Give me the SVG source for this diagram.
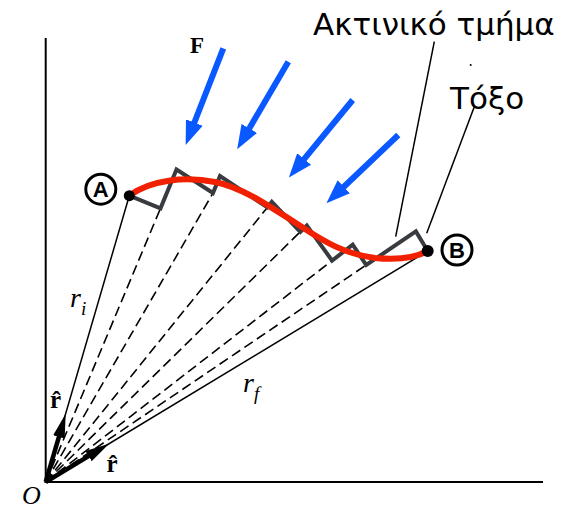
<svg xmlns="http://www.w3.org/2000/svg" width="568" height="511" viewBox="0 0 568 511">
<defs>
<style>
.axis{stroke:#000;stroke-width:2;fill:none}
.rad{stroke:#000;stroke-width:1.5;fill:none}
.dash{stroke:#000;stroke-width:1.6;fill:none;stroke-dasharray:10 5}
.lead{stroke:#000;stroke-width:1.5;fill:none}
.force{stroke:#0a58ff;stroke-width:6;fill:none;marker-end:url(#bh)}
.unit{stroke:#000;stroke-width:4.5;fill:none;marker-end:url(#kh)}
.stair{stroke:#383c40;stroke-width:4;fill:none;stroke-linejoin:miter}
.path{stroke:#f02000;stroke-width:6;fill:none;stroke-linecap:round}
.greek{font-family:"DejaVu Sans","Noto Sans",sans-serif;font-size:31px;fill:#000}
.it{font-family:"Liberation Serif","Times New Roman",serif;font-style:italic;fill:#000}
.bd{font-family:"Liberation Serif","Times New Roman",serif;font-weight:bold;fill:#000}
.circ{fill:#fff;stroke:#000;stroke-width:3}
.clab{font-family:"Liberation Sans",Arial,sans-serif;font-weight:bold;font-size:22px;text-anchor:middle;fill:#000}
</style>
<marker id="bh" viewBox="0 -10 26 20" markerWidth="26" markerHeight="20" refX="1" refY="0" orient="auto" markerUnits="userSpaceOnUse">
<path d="M0,-9 L24,0 L0,9 z" fill="#0a58ff"/>
</marker>
<marker id="kh" viewBox="0 -7 26 14" markerWidth="26" markerHeight="14" refX="1" refY="0" orient="auto" markerUnits="userSpaceOnUse">
<path d="M0,-6 L24,0 L0,6 z" fill="#000"/>
</marker>
</defs>

<g id="axes">
<line class="axis" x1="45.7" y1="38" x2="45.7" y2="483"/>
<line class="axis" x1="44.7" y1="482" x2="543" y2="482"/>
<text class="it" x="22" y="504" font-size="26">O</text>
</g>

<g id="connectors">
<line class="rad" x1="45.7" y1="482" x2="129.3" y2="195.7"/>
<line class="rad" x1="45.7" y1="482" x2="427.7" y2="251"/>
<line class="dash" x1="45.7" y1="482" x2="160.5" y2="208.3"/>
<line class="dash" x1="45.7" y1="482" x2="213" y2="193"/>
<line class="dash" x1="45.7" y1="482" x2="267.4" y2="207.4"/>
<line class="dash" x1="45.7" y1="482" x2="300.3" y2="231.8"/>
<line class="dash" x1="45.7" y1="482" x2="332.1" y2="260.6"/>
<line class="dash" x1="45.7" y1="482" x2="366.2" y2="265"/>
<line class="lead" x1="434.3" y1="41.7" x2="395.7" y2="236.7"/>
<line class="lead" x1="474.3" y1="106.7" x2="426.7" y2="233.3"/>
<line class="force" x1="223.3" y1="48.3" x2="194" y2="123.5"/>
<line class="force" x1="288.3" y1="61.7" x2="248.8" y2="129.3"/>
<line class="force" x1="352.7" y1="100" x2="303.5" y2="159.8"/>
<line class="force" x1="398.3" y1="135" x2="343.1" y2="187.5"/>
<line class="unit" x1="45.7" y1="482" x2="59.2" y2="435.9"/>
<line class="unit" x1="45.7" y1="482" x2="89.4" y2="455.6"/>
</g>

<g id="staircase">
<polyline class="stair" points="129.3,195.7 160.5,208.3 176.5,169.5 213,193 220,176 267.4,207.4 271.8,201.9 300.3,231.8 306.8,225.5 332.1,260.6 352.7,244.7 366.2,265 415.9,231.4 427.7,251"/>
</g>

<g id="arc-path">
<path class="path" d="M129.3,195.7 C150,180 185,176 215,182 C245,188 275,210 305,229 C325,242 345,254 375,258 C395,260 415,258 427.7,251"/>
</g>

<g id="point-A">
<circle cx="129.3" cy="195.7" r="5.5" fill="#000"/>
<circle class="circ" cx="100.8" cy="189.2" r="15"/>
<text class="clab" x="100.8" y="197">A</text>
</g>

<g id="point-B">
<circle cx="427.7" cy="251" r="6" fill="#000"/>
<circle class="circ" cx="457" cy="250" r="15"/>
<text class="clab" x="457" y="258">B</text>
</g>

<g id="labels">
<text class="bd" x="190" y="53" font-size="23">F</text>
<text class="greek" x="313" y="35">Ακτινικό τμήμα</text>
<circle cx="470.7" cy="65" r="1" fill="#000"/>
<text class="greek" x="450" y="109">Τόξο</text>
<text class="it" x="70" y="307" font-size="28">r<tspan font-size="19" dy="8">i</tspan></text>
<text class="it" x="243" y="392" font-size="28">r<tspan font-size="19" dy="8">f</tspan></text>
<text class="bd" x="50" y="408" font-size="25">r̂</text>
<text class="bd" x="106.5" y="472" font-size="25">r̂</text>
</g>
</svg>
